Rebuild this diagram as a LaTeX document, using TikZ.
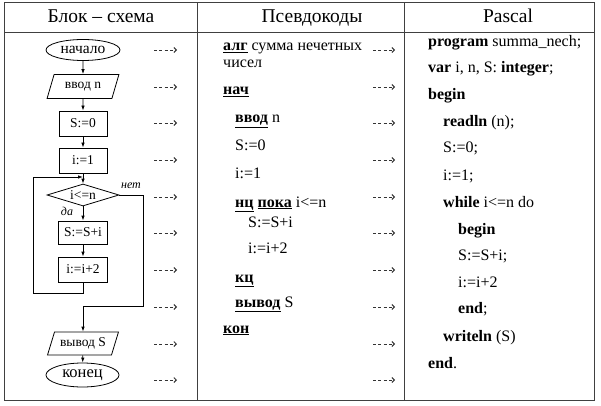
\documentclass[tikz,border=0pt]{standalone}
\usepackage{fontspec}
\setmainfont{Liberation Serif}
\usetikzlibrary{shapes.geometric,arrows.meta}
\newcommand{\ub}[1]{\underline{\textbf{#1}}}
\begin{document}
\begin{tikzpicture}[x=1pt,y=-1pt,
  tbl/.style={draw=black!75,line width=1pt},
  fc/.style={draw,line width=0.8pt,inner sep=0pt,font=\fontsize{13.5}{13.5}\selectfont},
  box/.style={fc,rectangle,minimum width=48,minimum height=25},
  para/.style={fc,trapezium,trapezium left angle=64,trapezium right angle=116,trapezium stretches=true,minimum width=72,minimum height=24},
  term/.style={fc,ellipse,minimum width=74,minimum height=21,font=\fontsize{15.5}{15.5}\selectfont},
  arr/.style={line width=0.8pt,-{Latex[length=5pt,width=3.5pt]}},
  ind/.style={dash pattern=on 3pt off 2.3pt,line width=0.9pt,black!80,-{Straight Barb[length=2.5pt,width=5pt]}},
  hdr/.style={anchor=base,inner sep=0pt,font=\fontsize{19.5}{19.5}\selectfont},
  code/.style={anchor=base west,inner sep=0pt,font=\fontsize{16}{16}\selectfont},
  lbl/.style={inner sep=0pt,font=\fontsize{12}{12}\selectfont\itshape}]
\useasboundingbox (0,0) rectangle (601,406);
% table
\draw[tbl] (4,3) rectangle (594,400);
\draw[tbl] (4,33) -- (594,33);
\draw[tbl] (197,3) -- (197,400);
\draw[tbl] (404,3) -- (404,400);
\node[hdr] (h1) at (101,23) {Блок – схема};
\node[hdr] (h2) at (312,23) {Псевдокоды};
\node[hdr] (h3) at (508,23) {Pascal};
% flowchart
\node[term] (start) at (83,50) {начало};
\node[para] (inp) at (83,86.5) {ввод n};
\node[box] (s0) at (83,123.5) {S:=0};
\node[box] (i1) at (83,160.5) {i:=1};
\node[fc,diamond,aspect=3.2,minimum width=72,minimum height=22] (cond) at (83,195) {i<=n};
\node[box,minimum width=49,minimum height=23] (sum) at (83,232.5) {S:=S+i};
\node[box,minimum width=49] (inc) at (83,269.5) {i:=i+2};
\node[para,minimum width=71,minimum height=23] (out) at (83,343.5) {вывод S};
\node[term,minimum width=73,minimum height=24,font=\fontsize{16.5}{16.5}\selectfont] (fin) at (82.5,375) {конец};
\node[lbl] (no) at (131,186) {нет};
\node[lbl] (yes) at (67,211) {да};
\coordinate (lb) at (33,293);
\coordinate (lt) at (33,177);
\coordinate (jn) at (83,177);
\coordinate (rb) at (143,306);
\draw[arr] (start) -- (inp);
\draw[arr] (inp) -- (s0);
\draw[arr] (s0) -- (i1);
\draw[arr] (i1) -- (cond);
\draw[arr] (cond) -- (sum);
\draw[arr] (sum) -- (inc);
\draw[arr] (inc.south) |- (lb) -- (lt) -- (jn);
\draw[arr] (cond.east) -| (rb) -| (out.north);
\draw[arr] (out) -- (fin);
% indicator arrows
\foreach \y [count=\k] in {50,87,123,160,197,233,270,307,344,380}{
  \coordinate (a\k) at (154,\y);
  \coordinate (b\k) at (177,\y);
  \coordinate (c\k) at (373,\y);
  \coordinate (d\k) at (395,\y);
  \draw[ind] (a\k) -- (b\k);
  \draw[ind] (c\k) -- (d\k);
}
% pseudocode
\node[code] (p1) at (223,51) {\ub{алг} сумма нечетных};
\node[code] (p2) at (223,68) {чисел};
\node[code] (p3) at (223,95) {\ub{нач}};
\node[code] (p4) at (235,123) {\ub{ввод} n};
\node[code] (p5) at (235,150) {S:=0};
\node[code] (p6) at (235,178) {i:=1};
\node[code] (p7) at (235,207) {\ub{нц} \ub{пока} i<=n};
\node[code] (p8) at (248,227) {S:=S+i};
\node[code] (p9) at (248,253) {i:=i+2};
\node[code] (p10) at (235,282) {\ub{кц}};
\node[code] (p11) at (235,307) {\ub{вывод} S};
\node[code] (p12) at (223,333) {\ub{кон}};
% pascal
\node[code] (q1) at (428,47) {\textbf{program} summa\_nech;};
\node[code] (q2) at (428,73) {\textbf{var} i, n, S: \textbf{integer};};
\node[code] (q3) at (428,100) {\textbf{begin}};
\node[code] (q4) at (443,127) {\textbf{readln} (n);};
\node[code] (q5) at (443,153) {S:=0;};
\node[code] (q6) at (443,180) {i:=1;};
\node[code] (q7) at (443,207) {\textbf{while} i<=n do};
\node[code] (q8) at (458,234) {\textbf{begin}};
\node[code] (q9) at (458,260) {S:=S+i;};
\node[code] (q10) at (458,287) {i:=i+2};
\node[code] (q11) at (458,313) {\textbf{end};};
\node[code] (q12) at (443,341) {\textbf{writeln} (S)};
\node[code] (q13) at (428,368) {\textbf{end}.};
\end{tikzpicture}
\end{document}
